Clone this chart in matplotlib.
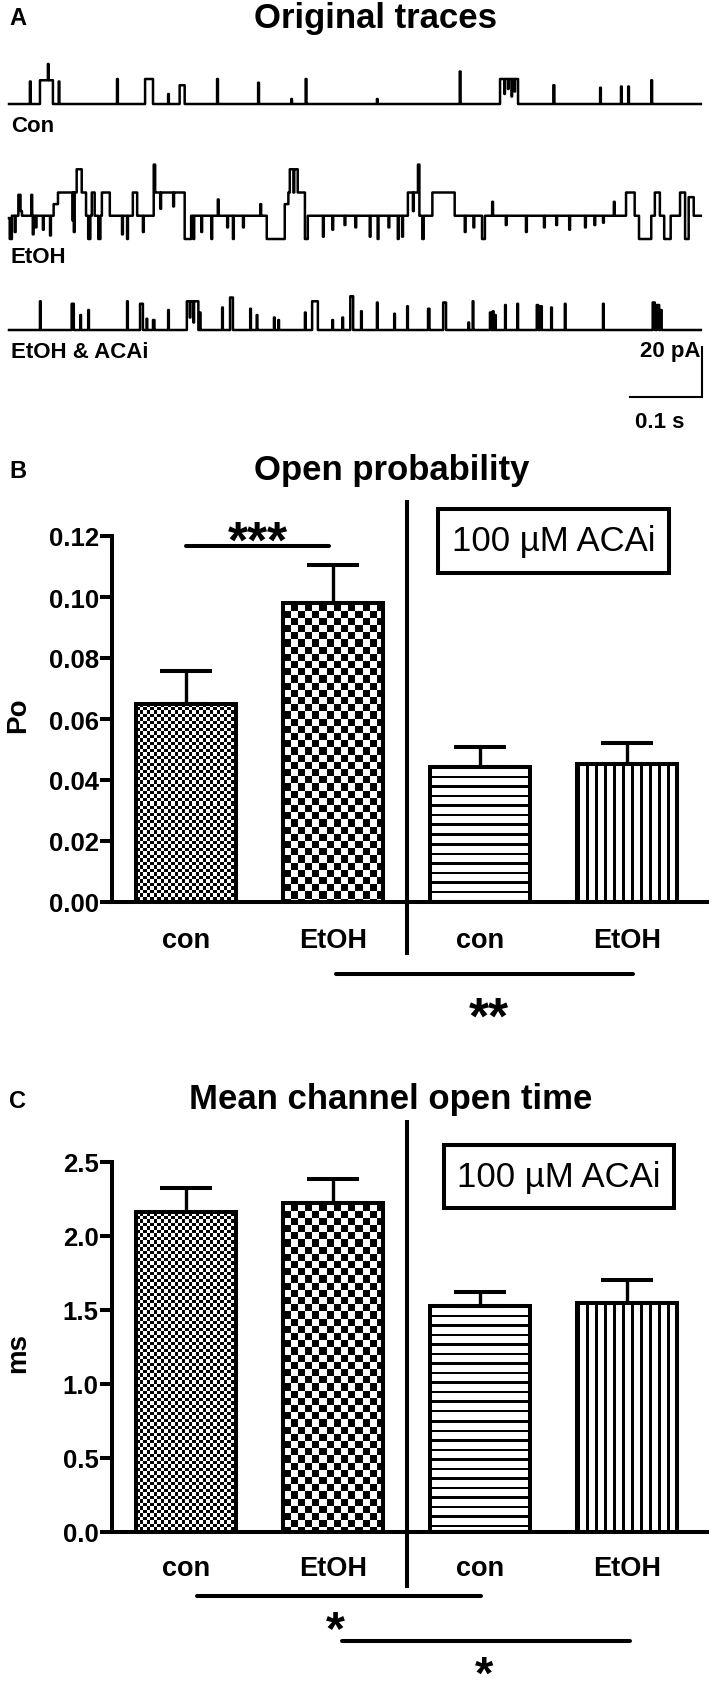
import numpy as np
import matplotlib
matplotlib.use("Agg")
import matplotlib.pyplot as plt
from matplotlib.patches import Rectangle
from matplotlib import font_manager

# ---------------- data ----------------
# panel A: single channel openings
# (start ms, duration ms, amplitude pA)
con_events = [
    (29, 1.2, 9.0), (43, 18, 9.5), (54, 1.0, 16.0), (69, 1.0, 9.0),
    (150, 1.2, 10.0), (189, 11, 10.0), (221, 1.0, 4.0), (237, 7, 7.5),
    (289, 1.2, 10.0), (346, 1.2, 8.5), (392, 1.0, 2.0), (412, 1.2, 10.0),
    (511, 1.0, 2.0), (626, 1.2, 13.0), (682, 25, 10.0), (688, 0.8, 4.0),
    (693, 0.8, 6.0), (698, 0.8, 3.0), (702, 0.8, 5.0), (756, 1.5, 7.5),
    (821, 1.0, 6.5), (850, 1.0, 7.0), (860, 1.0, 7.0), (892, 1.2, 9.5),
]
# EtOH: number of open channels over time (start ms, level)
etoh_steps = [
    (0, 0.9), (1, 0), (4, 1), (13, 1.9), (16, 1.2), (18, 1), (62, 1.5),
    (68, 2), (94, 3), (101, 2), (107, 1), (110, 0), (113, 1), (115, 2),
    (119, 1), (124, 0), (127, 1), (129, 2), (140, 1), (172, 2), (178, 1),
    (201, 3.2), (203, 2), (244, 0), (253, 1), (358, 0), (383, 1.5),
    (388, 2), (390, 3), (401, 2), (411, 0), (415, 1), (554, 2), (568, 3.2),
    (570, 1), (574, 0), (576, 1), (588, 2), (619, 1), (657, 0), (661, 1),
    (857, 2), (869, 1), (875, 0), (892, 1), (897, 2), (904, 1), (910, 0),
    (919, 1), (932, 2), (939, 0), (944, 1.8), (951, 1),
]
# brief flickers inside the EtOH record (ms, level)
etoh_flicker = [
    (8, 0.3), (31, 1.9), (33, 0.2), (37, 0.5), (47, 0.4), (57, 0.15),
    (88, 0.8), (90, 0.3), (157, 0.2), (164, 0.0), (186, 0.3), (210, 1.3),
    (228, 1.4), (256, 0.0), (267, 0.3), (281, 0.0), (290, 1.7), (303, 0.5),
    (311, 0.0), (325, 0.5), (349, 1.5), (395, 2.0), (436, 0.1), (449, 0.4),
    (466, 0.6), (481, 0.5), (501, 0.1), (512, 0.0), (527, 0.5), (540, 0.0),
    (546, 0.1), (561, 1.2), (633, 0.3), (645, 0.5), (671, 1.6), (690, 0.6),
    (718, 0.3), (743, 0.5), (760, 0.6), (778, 0.4), (800, 0.5), (813, 0.6),
    (825, 0.7), (840, 1.6),
]
unit_pA = 9.3
acai_events = [
    (43, 1.0, 11.5), (87, 3, 10.5), (99, 1.0, 6.0), (110, 1.0, 8.0),
    (164, 1.0, 11.5), (182, 4, 10.5), (191, 1.0, 4.5), (200, 2, 4.0),
    (221, 1.0, 8.0), (247, 16, 11.5), (251, 1, 5.0), (256, 1, 3.0),
    (265, 1.0, 7.0), (296, 1.0, 9.0), (307, 4, 13.0), (335, 1.0, 8.5),
    (344, 1.0, 6.0), (368, 1.0, 5.0), (374, 1.0, 4.0), (411, 1.0, 7.0),
    (421, 8, 11.5), (449, 1.0, 4.0), (463, 1.0, 5.0), (474, 4, 13.5),
    (489, 1.0, 7.5), (511, 1.0, 11.0), (535, 1.0, 6.5), (553, 1.0, 9.5),
    (582, 2, 8.5), (603, 4, 11.0), (638, 1.0, 3.0), (644, 1.0, 11.5),
    (668, 2, 7.0), (672, 1, 7.5), (675, 1, 6.0), (689, 1.0, 10.0),
    (706, 1.0, 10.5), (733, 2, 10.0), (738, 2, 9.5), (753, 1.0, 9.0),
    (772, 1.0, 10.5), (825, 1.0, 10.5), (894, 3, 11.0), (900, 3, 10.0),
    (905, 1.5, 8.0),
]
sweep_ms = 961
scalebar_ms = 100
scalebar_pA = 20

# panels B and C
groups = ["con", "EtOH", "con", "EtOH"]
po_mean = [0.065, 0.098, 0.0444, 0.0451]
po_sem = [0.0107, 0.0125, 0.0065, 0.0070]
ot_mean = [2.16, 2.22, 1.53, 1.545]
ot_sem = [0.165, 0.165, 0.09, 0.16]
patterns = ["fine", "checker", "hlines", "vlines"]

# ---------------- figure ----------------
W, H = 711, 1699
plt.rcParams['font.family'] = ['Liberation Sans', 'DejaVu Sans']
fig = plt.figure(figsize=(W / 100, H / 100), dpi=100)

names = {f.name for f in font_manager.fontManager.ttflist}
if 'Liberation Sans Narrow' in names:
    box_font, box_size = ['Liberation Sans Narrow', 'DejaVu Sans'], 29
else:
    box_font, box_size = ['Liberation Sans', 'DejaVu Sans'], 25


def px_axes(left, top, right, bottom):
    return fig.add_axes([left / W, 1 - bottom / H, (right - left) / W, (bottom - top) / H])


def ftext(x, y, s, **kw):
    fig.text(x / W, 1 - y / H, s, **kw)


def stars(xc, yc, s, size):
    # asterisks sit high in the em box, so place by baseline
    em = size * 100 / 72
    ftext(xc, yc + 0.56 * em, s, ha='center', va='baseline', fontsize=size, fontweight='bold')


# ---- panel A ----
axA = px_axes(0, 0, W, 440)
axA.axis('off')
axA.set_xlim(-12.5, 975)
axA.set_ylim(-134, 42)
t = np.arange(0, sweep_ms, 0.1)

con_lvl = np.zeros_like(t)
for s, d, a in con_events:
    con_lvl[(t >= s) & (t < s + d)] = a

etoh_lvl = np.zeros_like(t)
for k, (s, l) in enumerate(etoh_steps):
    e = etoh_steps[k + 1][0] if k + 1 < len(etoh_steps) else sweep_ms
    etoh_lvl[(t >= s) & (t < e)] = l * unit_pA
for s, l in etoh_flicker:
    etoh_lvl[(t >= s) & (t < s + 1.2)] = l * unit_pA

acai_lvl = np.zeros_like(t)
for s, d, a in acai_events:
    acai_lvl[(t >= s) & (t < s + d)] = a

for lvl, off in [(con_lvl, 0), (etoh_lvl, -54), (acai_lvl, -90.4)]:
    axA.plot(t, lvl + off, color='k', lw=1.8, drawstyle='steps-post')

sb_x, sb_top = 962, -97.2
axA.plot([sb_x, sb_x, sb_x - scalebar_ms], [sb_top, sb_top - scalebar_pA, sb_top - scalebar_pA],
         color='k', lw=1.5, solid_joinstyle='miter')

ftext(9, 25, "A", fontsize=17, fontweight='bold')
ftext(375, 28, "Original traces", ha='center', fontsize=25, fontweight='bold')
ftext(11, 132, "Con", fontsize=16, fontweight='bold')
ftext(11, 263, "EtOH", fontsize=16, fontweight='bold')
ftext(11, 358, "EtOH & ACAi", fontsize=16, fontweight='bold')
ftext(701, 357, "20 pA", ha='right', fontsize=16, fontweight='bold')
ftext(660, 428, "0.1 s", ha='center', fontsize=16, fontweight='bold')


# ---- bar panels ----
def fill_pattern(ax, x, h, width, kind):
    x0, y0 = ax.transData.transform((x - width / 2, 0))
    x1, y1 = ax.transData.transform((x + width / 2, h))
    wpx, hpx = int(round(x1 - x0)), int(round(y1 - y0))
    i, j = np.indices((hpx, wpx))
    if kind == "fine":
        arr = (np.floor(i / 3.5) + np.floor(j / 3.5)) % 2
    elif kind == "checker":
        arr = (np.floor(i / 7.2) + np.floor(j / 7.2)) % 2
    elif kind == "hlines":
        arr = ((i % 9.5) < 2.2).astype(float)
    else:
        arr = ((j % 9.0) < 2.2).astype(float)
    ax.imshow(arr, extent=(x - width / 2, x + width / 2, 0, h), origin='upper',
              cmap='gray_r', vmin=0, vmax=1, interpolation='nearest', aspect='auto', zorder=1)


def bar_panel(top, bottom, ymax, step, fmt, means, sems):
    ax = px_axes(112, top, 707, bottom)
    xl = (-0.5034, 3.5442)
    ax.set_xlim(*xl)
    ax.set_ylim(0, ymax)
    x = np.arange(len(means))
    width = 0.68
    for xi, m, p in zip(x, means, patterns):
        fill_pattern(ax, xi, m, width, p)
    ax.bar(x, means, width, facecolor='none', edgecolor='k', linewidth=2.9, zorder=3)
    ax.errorbar(x, means, yerr=[np.zeros(len(sems)), sems], fmt='none', ecolor='k',
                elinewidth=2.4, capsize=18.7, capthick=2.9, zorder=2)
    ax.set_xlim(*xl)
    ax.set_ylim(0, ymax)
    for s in ['top', 'right']:
        ax.spines[s].set_visible(False)
    for s in ['left', 'bottom']:
        ax.spines[s].set_linewidth(2.9)
    ax.set_xticks([])
    ticks = np.arange(0, ymax + step / 2, step)
    ax.set_yticks(ticks)
    ax.set_yticklabels([fmt % v for v in ticks], fontsize=18.5, fontweight='bold')
    ax.tick_params(axis='y', length=8.6, width=2.9, pad=1)
    ax.patch.set_alpha(0)
    return ax, x


# panel B
axB, xB = bar_panel(537, 903, 0.12, 0.02, "%.2f", po_mean, po_sem)
pB = 366 / 0.12          # px per unit
for xi, g in zip(xB, groups):
    axB.text(xi, -45 / pB, g, ha='center', va='baseline', fontsize=19.5, fontweight='bold', clip_on=False)
axB.plot([1.5, 1.5], [0.1311, -0.0167], color='k', lw=2.9, clip_on=False)
axB.add_patch(Rectangle((1.714, 0.1079), 1.572, 0.0210, fill=False, lw=2.9, clip_on=False))
axB.text(2.5, 0.1184, "100 µM ACAi", ha='center', va='center', fontsize=box_size,
         family=box_font, clip_on=False)
axB.plot([0.0, 0.973], [0.1166, 0.1166], color='k', lw=2.9, solid_capstyle='round', clip_on=False)
axB.plot([1.02, 3.04], [-0.0236, -0.0236], color='k', lw=2.9, solid_capstyle='round', clip_on=False)
stars(258, 529, "***", 37)
stars(489, 1005, "**", 37)
ftext(9, 478, "B", fontsize=17, fontweight='bold')
ftext(392, 480, "Open probability", ha='center', fontsize=25, fontweight='bold')
ftext(18, 715, "Po", rotation=90, ha='center', va='center', fontsize=20, fontweight='bold')

# panel C
axC, xC = bar_panel(1163, 1533, 2.5, 0.5, "%.1f", ot_mean, ot_sem)
pC = 370 / 2.5
for xi, g in zip(xC, groups):
    axC.text(xi, -43 / pC, g, ha='center', va='baseline', fontsize=19.5, fontweight='bold', clip_on=False)
axC.plot([1.5, 1.5], [2.77, -0.365], color='k', lw=2.9, clip_on=False)
axC.add_patch(Rectangle((1.755, 2.189), 1.565, 0.426, fill=False, lw=2.9, clip_on=False))
axC.text(2.5375, 2.402, "100 µM ACAi", ha='center', va='center', fontsize=box_size,
         family=box_font, clip_on=False)
axC.plot([0.075, 2.007], [-0.43, -0.43], color='k', lw=2.9, solid_capstyle='round', clip_on=False)
axC.plot([1.06, 3.02], [-0.737, -0.737], color='k', lw=2.9, solid_capstyle='round', clip_on=False)
stars(335, 1617, "*", 35)
stars(484, 1662, "*", 34)
ftext(9, 1108, "C", fontsize=17, fontweight='bold')
ftext(391, 1109, "Mean channel open time", ha='center', fontsize=25, fontweight='bold')
ftext(18, 1353, "ms", rotation=90, ha='center', va='center', fontsize=20, fontweight='bold')

fig.savefig("out.png", dpi=100)
